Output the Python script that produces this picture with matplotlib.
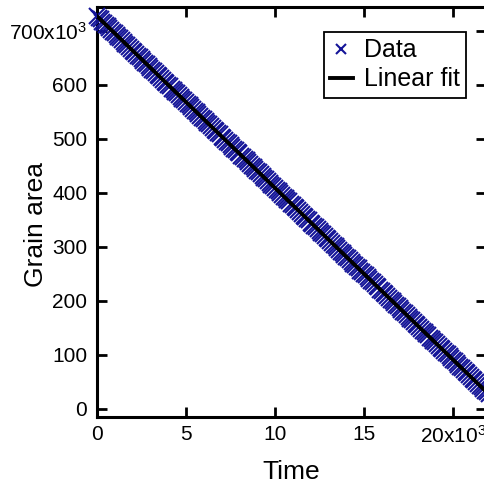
import numpy as np
import matplotlib
matplotlib.use("Agg")
import matplotlib.pyplot as plt

# time samples (s) and grain area (x10^3)
time = list(range(0, 22001, 100))
area_k = [
    727, 724, 721, 717, 714, 711, 708, 705, 702, 698,
    695, 692, 689, 686, 682, 679, 676, 673, 670, 667,
    663, 660, 657, 654, 651, 648, 644, 641, 638, 635,
    632, 628, 625, 622, 619, 616, 613, 609, 606, 603,
    600, 597, 593, 590, 587, 584, 581, 578, 574, 571,
    568, 565, 562, 558, 555, 552, 549, 546, 543, 539,
    536, 533, 530, 527, 523, 520, 517, 514, 511, 508,
    504, 501, 498, 495, 492, 489, 485, 482, 479, 476,
    473, 469, 466, 463, 460, 457, 454, 450, 447, 444,
    441, 438, 434, 431, 428, 425, 422, 419, 415, 412,
    409, 406, 403, 399, 396, 393, 390, 387, 384, 380,
    377, 374, 371, 368, 364, 361, 358, 355, 352, 349,
    345, 342, 339, 336, 333, 330, 326, 323, 320, 317,
    314, 310, 307, 304, 301, 298, 295, 291, 288, 285,
    282, 279, 275, 272, 269, 266, 263, 260, 256, 253,
    250, 247, 244, 240, 237, 234, 231, 228, 225, 221,
    218, 215, 212, 209, 205, 202, 199, 196, 193, 190,
    186, 183, 180, 177, 174, 171, 167, 164, 161, 158,
    155, 151, 148, 145, 142, 139, 136, 132, 129, 126,
    123, 120, 116, 113, 110, 107, 104, 101, 97, 94,
    91, 88, 85, 81, 78, 75, 72, 69, 66, 62,
    59, 56, 53, 50, 46, 43, 40, 37, 34, 31, 27,
]
xticks = [0, 5000, 10000, 15000, 20000]
xtick_labels = ["0", "5", "10", "15", "20x10$^3$"]
yticks = [0, 100e3, 200e3, 300e3, 400e3, 500e3, 600e3, 700e3]
ytick_labels = ["0", "100", "200", "300", "400", "500", "600", "700x10$^3$"]

plt.rcParams["font.family"] = ["Liberation Sans", "DejaVu Sans"]
plt.rcParams["mathtext.fontset"] = "custom"
plt.rcParams["mathtext.rm"] = "Liberation Sans"
plt.rcParams["mathtext.it"] = "Liberation Sans:italic"
plt.rcParams["mathtext.bf"] = "Liberation Sans:bold"

t = np.array(time, dtype=float)
area = np.array(area_k, dtype=float) * 1e3
slope, icpt = np.polyfit(t, area, 1)

fig = plt.figure(figsize=(4.84, 4.88), dpi=100)
ax = fig.add_axes([97 / 484, 71 / 488, 389 / 484, 410 / 488])

ax.plot(t, area, "x", color="#141498", markersize=11, markeredgewidth=1.5,
        clip_on=False, label="Data", zorder=3)
tf = np.array([0, 22000.0])
ax.plot(tf, slope * tf + icpt, "-", color="black", linewidth=2.8,
        label="Linear fit", zorder=4)

ax.set_xlim(0, 21850)
ax.set_ylim(-15e3, 744e3)
ax.set_xticks(xticks, xtick_labels)
ax.set_yticks(yticks, ytick_labels)
ax.tick_params(direction="in", length=7, width=2, labelsize=15, pad=7,
               top=True, right=True, colors="black")
ax.tick_params(axis="x", pad=6)
for s in ax.spines.values():
    s.set_linewidth(2.2)

ax.set_xlabel("Time", fontsize=19, labelpad=9)
ax.set_ylabel("Grain area", fontsize=19)
ax.yaxis.set_label_coords(-0.125, 0.47)

leg = ax.legend(loc="upper right", bbox_to_anchor=(466 / 484, 1 - 32 / 488),
                bbox_transform=fig.transFigure, fontsize=18, frameon=True,
                fancybox=False, handlelength=0.9, handletextpad=0.45,
                borderpad=0.25, labelspacing=0.2, borderaxespad=0,
                markerscale=0.6)
leg.get_frame().set_edgecolor("black")
leg.get_frame().set_linewidth(1.3)
leg.get_frame().set_alpha(1)

fig.savefig("out.png", dpi=100)
